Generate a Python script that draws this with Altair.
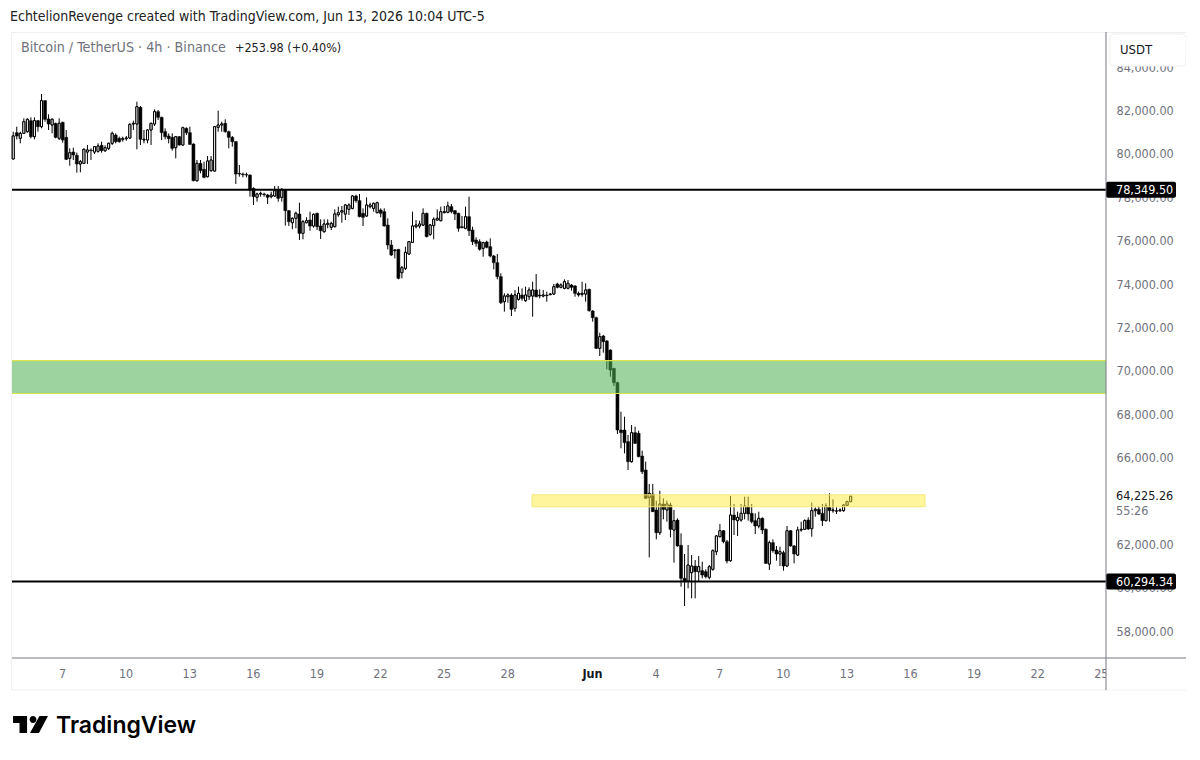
import altair as alt
import pandas as pd

opens = [79765,80978,80717,80947,81024,81531,80794,81531,81255,82453,81608,81331,81408,80717,81454,80763,79795,80087,79934,79534,79565,80087,80179,80087,80118,80394,80149,80256,80487,80870,80717,80671,80701,80732,81378,81378,82146,80640,80640,81101,81378,81946,81685,81024,80825,80763,80287,80794,80410,81178,80978,80456,78766,79565,79289,78950,79227,79212,81224,81331,81408,81024,80763,80563,79104,79073,79043,79027,78413,78000,78152,78152,78106,78029,78060,78336,77998,
78336,77384,76831,77031,77230,76339,76831,76954,76677,77261,76677,76416,76754,76616,76647,77200,77322,77230,77445,77491,78060,77845,77261,77138,77568,77491,77292,77415,77338,76723,75802,75541,75602,74527,74727,75387,75925,76647,76677,76723,77261,76293,76693,76954,76923,77292,77307,77568,77384,77261,76647,76570,77107,76493,76032,75955,75648,75940,75725,75295,74988,74343,73190,73421,73498,72883,73298,73498,73237,73421,73452,73728,73498,73452,73498,73513,73544,74005,73851,73805,73805,73959,73913,73575,73528,73544,73759,
72760,72453,71040,71609,71378,70963,70119,69458,67277,67277,66740,65818,67154,67124,66079,65434,
64174,64328,63591,62546,63867,63591,63821,62669,63130,61962,60442,60319,60703,61010,60749,60795,60749,60488,60857,61671,62362,62638,62131,61256,63360,63099,63130,63437,63744,63437,63099,62853,63207,62700,61102,62085,61747,61563,61625,61010,62638,61932,61517,62669,62700,63130,62731,63560,63621,63437,63099,63713,63560,63559,63560,63560,63806,63975]
highs = [81024,81255,81024,81639,81639,81685,81685,81562,82760,82483,81823,81639,81439,81639,81485,81101,80256,80287,80057,79719,80256,80410,80256,80364,80487,80563,80394,80517,81024,80947,80794,80794,80825,81408,81531,82407,82207,81101,81132,81439,82053,82023,81715,81178,80947,80947,80825,80825,81255,81224,81255,80487,79719,79719,79642,79903,79903,81285,81992,81485,81593,81070,80825,80594,79488,79135,79135,79058,78459,78213,78259,78213,78152,78259,78521,78521,78413,
78367,77415,77077,77338,77753,76954,77077,77338,77261,77292,76985,76985,76985,76877,77445,77568,77599,77691,77722,78106,78121,78152,77491,77998,77753,77753,77799,77491,77491,77031,76032,75602,75602,74834,75725,75986,77338,76954,76923,77491,77292,76769,77077,77445,77568,77599,77799,77691,77415,77292,77138,77568,78029,76647,76155,76063,75955,76001,76109,75341,75387,74496,73575,73575,73575,73728,73882,73805,73882,73851,74112,74465,73759,73728,73651,73575,74005,74066,74035,74220,74189,74005,73959,73651,74112,74035,73790,
72807,72499,71762,71655,71424,70994,70119,69504,68122,67891,67047,67507,67431,67246,66325,65818,
64789,64789,64021,64481,64128,64021,63929,63591,63207,62515,61563,61978,61517,61287,61471,61210,60857,61056,61778,62439,62945,62669,62208,64236,63867,63514,63867,64205,64205,63867,63437,63514,63253,62746,62177,62239,61932,61901,61717,62853,62669,61978,62823,63053,63161,63253,63929,63713,63775,63867,63898,64359,64082,63713,63667,63867,64021,64251]
lows = [79765,80671,80487,80917,80978,80717,80671,81024,81178,81485,81101,80947,80717,80640,80517,79719,79457,79719,79135,79150,79534,79534,79719,79995,80057,80057,80087,80179,80410,80487,80517,80563,80609,80701,81101,80210,80410,80487,80487,80410,81285,81562,80640,80671,80487,80149,79795,80379,80379,80870,80410,78736,78720,79104,78874,78920,79181,79181,81024,81024,80978,80256,80333,78613,78951,78920,78920,78029,77645,77799,78029,78029,77691,77952,78029,77799,77799,
76693,76677,76524,76570,76032,76063,76800,76462,76601,76493,76078,76370,76570,76493,76616,77107,76831,76954,77184,77445,77753,77077,76677,77107,77491,77338,77261,77077,76647,75602,75295,75187,74220,74266,74650,75341,75909,76570,76570,76693,76155,76217,76063,76923,76892,77261,77261,77261,76954,76416,76570,76524,76217,75802,75725,75541,75264,75648,75233,74681,74220,73083,72730,73145,72530,72730,73237,73237,73190,73268,72499,73390,73344,73390,73190,73498,73498,73805,73805,73759,73759,73698,73421,73421,73421,73190,72730,
72269,71009,70687,70841,70073,69735,69305,67093,66432,66202,65434,65772,66632,66017,65250,64097,
61409,63498,62239,62439,63161,63053,62331,61164,61901,60058,59167,59981,59520,59520,60288,60442,60442,60396,60795,61517,62331,62055,61133,61210,62439,62392,63053,63161,63099,62976,62485,62746,62485,61102,60826,61625,61256,61010,60795,60979,61901,61133,61471,62592,62669,62669,62362,63283,63360,62853,63068,63053,63468,63406,63498,63514,63775,63959]
closes = [80825,80825,80947,81485,81593,80794,81531,81255,82453,81593,81378,81593,80763,81408,80640,79749,80057,79949,79534,79642,80210,80179,80149,80333,80364,80149,80287,80487,80947,80563,80563,80701,80732,81362,81408,82176,80671,80671,81101,81408,81946,81685,80978,80794,80701,80256,80794,80410,81208,80978,80441,78766,79565,79227,78920,79673,79719,81255,81331,81378,81024,80763,80563,79073,79073,79043,79027,78336,78029,78152,78183,78122,78000,78106,78305,77952,78367,
77384,76877,77031,77261,76339,76877,76923,76677,77215,76647,76462,76769,76800,76800,77230,77292,77384,77645,77645,78060,77845,77107,77077,77645,77645,77722,77753,77261,76677,75802,75341,75571,74266,74757,75464,75955,76677,76723,76769,77261,76186,76723,76985,77031,77338,77338,77599,77338,77230,76570,76601,77107,76462,75955,75879,75602,75909,75694,75295,74988,74343,73145,73452,73498,72837,73498,73575,73344,73498,73728,73728,73421,73452,73498,73467,73544,73882,73851,73959,74112,74035,73851,73575,73498,73575,73728,72776,
72453,71040,71578,71347,70503,70042,69458,67277,67154,66693,65818,67154,66663,66048,65357,64128,
64359,63514,62546,63867,63621,63867,62700,63099,61932,60442,60288,61056,61010,60749,60979,60595,60519,60979,61717,62393,62638,62131,61241,63360,63130,63253,63437,63775,63406,63053,62853,63207,62669,61133,62085,61717,61563,61671,61010,62638,61932,61563,62669,62700,63099,62715,63560,63621,63406,63099,63775,63560,63590,63529,63590,63821,63975,64225]

first_day = 4.70
tick_days = [7, 10, 13, 16, 19, 22, 25, 28, 32, 35, 38, 41, 44, 47, 50, 53, 56]
price_ticks = [58000, 60000, 62000, 66000, 68000, 70000, 72000, 74000, 76000, 78000, 80000, 82000, 84000]
levels = [78349.50, 60294.34]
level_labels = ["78,349.50", "60,294.34"]
green_zone = [68960, 70470]
yellow_zone = [63740, 64290]
yellow_days = [29.17, 47.71]

CUT = "DejaVu Sans Condensed"
GREY = "#6f727c"

n = min(len(opens), len(highs), len(lows), len(closes))
df = pd.DataFrame({"day": [first_day + (237 - n + 1 + i) / 6 for i in range(n)],
                   "o": opens[:n], "h": highs[:n], "l": lows[:n], "c": closes[:n]})
df["up"] = df.c >= df.o
df["top"] = df[["o", "c"]].max(axis=1)
df["bot"] = df[["o", "c"]].min(axis=1)

xs = alt.Scale(domain=[4.642, 56.245], nice=False, zero=False, padding=0)
ys = alt.Scale(domain=[56771, 85525], nice=False, zero=False, padding=0)
X = alt.X("day:Q", scale=xs, title=None, axis=alt.Axis(
    values=tick_days, grid=False, domain=False, ticks=False, labelPadding=9,
    labelFont=CUT, labelFontSize=12.5, labelBound=False, labelFlush=False, labelOverlap=False,
    labelColor={"condition": {"test": "datum.value == 32", "value": "#131722"}, "value": GREY},
    labelFontWeight={"condition": {"test": "datum.value == 32", "value": "bold"}, "value": "normal"},
    labelExpr="datum.value == 32 ? 'Jun' : (datum.value > 32 ? datum.value - 31 : datum.value)"))
Y = alt.Y("bot:Q", scale=ys, title=None, axis=alt.Axis(
    orient="right", values=price_ticks, format=",.2f", grid=False, domain=False, ticks=False,
    labelPadding=10, labelFont=CUT, labelFontSize=12.5, labelColor=GREY, labelOverlap=False))
one = alt.Data(values=[{"k": 1}])


def txt(s, x, y, size=13, color="#131722", weight="normal", font=CUT):
    return alt.Chart(one).mark_text(align="left", baseline="middle", fontSize=size, color=color,
                                    fontWeight=weight, font=font, text=s).encode(
        x=alt.value(x - 12), y=alt.value(y - 34))


def box(x0, x1, y0, y1, **kw):
    return alt.Chart(one).mark_rect(**kw).encode(
        x=alt.value(x0 - 12), x2=alt.value(x1 - 12), y=alt.value(y0 - 34), y2=alt.value(y1 - 34))


frame = box(11.5, 1188, 32.5, 690, fill="transparent", stroke="#efefef", strokeWidth=1)

bodies = alt.Chart(df).mark_bar(size=2, fill="white", stroke="#000000", strokeWidth=1).transform_filter(
    "datum.up").encode(x=X, y=Y, y2="top:Q")
wicks = alt.Chart(df).mark_rule(color="#000000", strokeWidth=1).encode(
    x=alt.X("day:Q", scale=xs, title=None), y=alt.Y("l:Q", scale=ys, title=None), y2="h:Q")
bodies_up = alt.Chart(df).mark_bar(size=2, fill="white", stroke="#000000", strokeWidth=1).transform_filter(
    "datum.up").encode(x=alt.X("day:Q", scale=xs, title=None), y=alt.Y("bot:Q", scale=ys, title=None), y2="top:Q")
bodies_dn = alt.Chart(df).mark_bar(size=3, fill="#000000", stroke="#000000", strokeWidth=0.5).transform_filter(
    "!datum.up").encode(x=alt.X("day:Q", scale=xs, title=None), y=alt.Y("bot:Q", scale=ys, title=None), y2="top:Q")

gz = pd.DataFrame({"a": [green_zone[0]], "b": [green_zone[1]]})
green = alt.Chart(gz).mark_rect(fill="#4caf50", fillOpacity=0.55).encode(
    x=alt.value(0), x2=alt.value(1094), y=alt.Y("a:Q", scale=ys, title=None), y2="b:Q")
gl = pd.DataFrame({"p": green_zone})
green_lines = alt.Chart(gl).mark_rule(color="#d9e34f", strokeWidth=1.2).encode(
    x=alt.value(0), x2=alt.value(1094), y=alt.Y("p:Q", scale=ys, title=None))
yz = pd.DataFrame({"a": [yellow_zone[0]], "b": [yellow_zone[1]], "d0": [yellow_days[0]], "d1": [yellow_days[1]]})
yellow = alt.Chart(yz).mark_rect(fill="#ffeb3b", fillOpacity=0.5, stroke="#f7e77a", strokeWidth=1).encode(
    x=alt.X("d0:Q", scale=xs, title=None), x2="d1:Q", y=alt.Y("a:Q", scale=ys, title=None), y2="b:Q")

lv = pd.DataFrame({"p": levels, "t": level_labels})
lv["a"] = lv.p - 370
lv["b"] = lv.p + 370
level_rules = alt.Chart(lv).mark_rule(color="#000000", strokeWidth=2).encode(
    x=alt.value(0), x2=alt.value(1094), y=alt.Y("p:Q", scale=ys, title=None))
level_tags = alt.Chart(lv).mark_rect(fill="#000000", cornerRadius=2).encode(
    x=alt.value(1094), x2=alt.value(1164), y=alt.Y("a:Q", scale=ys, title=None), y2="b:Q")
level_text = alt.Chart(lv).mark_text(align="left", baseline="middle", color="white", fontSize=12.5, font=CUT).encode(
    x=alt.value(1104), y=alt.Y("p:Q", scale=ys, title=None), text="t:N")

cover = box(1106, 1187.5, 658.5, 689.5, fill="white")
vline = box(1105.5, 1106.5, 32, 690, fill="#787b86")
hline = box(12, 1188, 657.5, 658.5, fill="#787b86")
usdt = box(1110, 1186, 34, 66, fill="white", stroke="#eeeeee", strokeWidth=1, cornerRadius=4)

logo_path = ("M-0.97,-0.47 L-0.19,-0.47 L-0.19,0.47 L-0.61,0.47 L-0.61,-0.08 L-0.97,-0.08 Z "
             "M-0.05,-0.28 A0.19,0.19 0 1,0 0.33,-0.28 A0.19,0.19 0 1,0 -0.05,-0.28 Z "
             "M0.5,-0.47 L0.97,-0.47 L0.47,0.47 L-0.03,0.47 Z")
logo = alt.Chart(one).mark_point(shape=logo_path, filled=True, size=1296, color="#000000", opacity=1, strokeWidth=0).encode(
    x=alt.value(30.5 - 12), y=alt.value(724.5 - 34))

chart = alt.layer(
    frame, bodies, wicks, bodies_up, bodies_dn, yellow, green, green_lines, level_rules, level_tags, level_text,
    cover, hline, vline, usdt,
    txt("USDT", 1120, 50, 13),
    txt("64,225.26", 1116, 496, 12.5, "#131722"),
    txt("55:26", 1116, 511, 12.5, GREY),
    txt("EchtelionRevenge created with TradingView.com, Jun 13, 2026 10:04 UTC-5", 10, 17, 14, "#222222"),
    txt("Bitcoin / TetherUS · 4h · Binance", 21, 48, 14.2, GREY),
    txt("+253.98 (+0.40%)", 235, 48, 12.5, "#222222"),
    txt("TradingView", 56, 726, 23, "#000000", 600, "Inter"),
    logo,
).properties(
    width=1094, height=624,
    padding={"left": 4, "top": 26, "right": 80, "bottom": 80},
    background="white",
    autosize=alt.AutoSizeParams(type="none"),
).configure_view(stroke=None)

chart.save("out.html", embed_options={"renderer": "svg", "actions": False})
